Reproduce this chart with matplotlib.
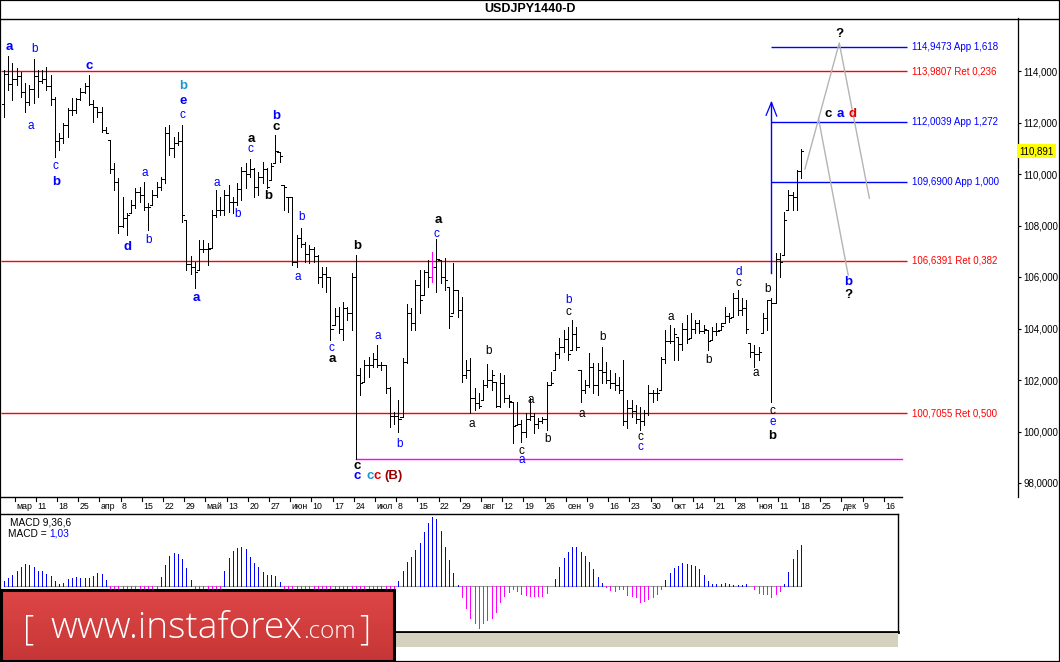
import numpy as np
import pandas as pd
import matplotlib
matplotlib.use("Agg")
import matplotlib.pyplot as plt
import matplotlib.transforms as mtransforms
from matplotlib.collections import LineCollection
from matplotlib.patches import Rectangle
from matplotlib.lines import Line2D
from matplotlib.colors import LinearSegmentedColormap

# ------------------------------------------------------------------ data
origin_day = "2016-03-04"           # day index 0 (first weekly separator)
bar_start, bar_end = "2016-03-01", "2016-11-18"

highs = [
    114.04, 114.58, 114.32, 114.10, 113.97, 113.52, 113.46, 114.45, 114.04, 114.04,
    114.17, 113.84, 113.00, 111.58, 111.97, 112.55, 112.94, 112.94, 113.33, 113.52,
    113.84, 112.87, 112.61, 112.61, 111.84, 111.32, 110.41, 109.83, 109.12, 108.47,
    108.99, 109.44, 109.51, 109.70, 108.86, 109.38, 109.70, 109.90, 111.84, 111.90,
    111.45, 111.64, 111.90, 108.21, 106.80, 106.60, 107.44, 107.44, 107.31, 108.60,
    109.38, 109.12, 109.38, 109.57, 109.12, 109.64, 110.29, 110.41, 110.57, 110.22,
    110.09, 110.48, 110.22, 110.41, 111.51, 110.87, 109.57, 109.12, 109.12, 107.63,
    107.89, 107.37, 107.24, 107.18, 106.85, 106.40, 106.40, 106.01, 104.78, 104.85,
    105.04, 104.85, 106.14, 106.85, 102.45, 102.78, 102.91, 103.04, 103.36, 102.70,
    102.58, 101.74, 100.77, 101.22, 102.87, 104.95, 104.78, 105.88, 106.27, 106.27,
    106.66, 106.98, 107.46, 106.66, 106.72, 105.62, 106.53, 105.50, 105.24, 102.78,
    102.84, 101.68, 101.48, 102.00, 102.62, 102.39, 101.93, 102.26, 102.19, 101.42,
    101.16, 101.16, 100.45, 100.71, 101.29, 100.71, 100.51, 100.58, 101.93, 102.32,
    103.10, 103.62, 103.94, 104.07, 104.33, 104.07, 102.39, 102.00, 103.04, 102.65,
    102.65, 103.30, 102.68, 102.39, 102.26, 102.13, 102.78, 101.22, 101.22, 101.03,
    100.96, 100.84, 101.80, 101.61, 101.68, 102.90, 103.94, 104.14, 104.01, 103.68,
    104.20, 104.52, 104.59, 104.33, 104.33, 104.14, 103.94, 104.07, 104.20, 104.20,
    104.85, 104.59, 105.37, 105.50, 105.17, 105.10, 103.42, 103.36, 103.29, 104.59,
    105.10, 105.20, 106.92, 106.92, 108.54, 109.38, 109.31, 110.16, 110.96,
]
lows = [
    112.20, 113.26, 112.87, 113.46, 113.00, 112.42, 112.68, 112.74, 113.00, 113.52,
    113.26, 112.68, 110.67, 110.93, 111.19, 111.45, 112.29, 112.36, 112.87, 113.13,
    112.68, 112.03, 112.23, 111.64, 111.58, 110.03, 109.38, 107.70, 107.96, 107.63,
    108.47, 108.67, 108.93, 108.60, 107.83, 108.80, 109.12, 109.38, 109.64, 110.74,
    110.67, 111.13, 108.15, 106.27, 106.10, 105.56, 106.27, 106.98, 106.47, 107.11,
    108.34, 108.41, 108.41, 108.54, 108.47, 108.80, 108.99, 109.44, 109.90, 109.12,
    109.18, 109.64, 109.44, 109.77, 110.41, 110.48, 108.60, 108.54, 106.47, 106.40,
    107.18, 106.60, 106.53, 106.60, 105.75, 105.62, 105.43, 103.55, 104.14, 103.81,
    103.55, 104.33, 103.94, 98.92, 101.42, 101.94, 102.13, 102.52, 102.52, 102.39,
    101.48, 100.19, 100.30, 99.97, 100.55, 102.65, 103.94, 103.94, 104.59, 105.30,
    105.62, 105.82, 105.43, 105.76, 105.50, 104.01, 104.59, 104.46, 101.93, 102.07,
    100.70, 100.83, 100.90, 101.22, 101.74, 101.61, 100.96, 100.96, 101.16, 100.96,
    99.54, 100.25, 99.60, 99.80, 100.45, 99.93, 100.12, 100.32, 100.06, 101.80,
    102.39, 102.84, 103.10, 102.78, 103.17, 103.17, 101.16, 101.48, 101.74, 101.48,
    101.42, 101.90, 101.90, 101.68, 101.61, 101.48, 100.25, 100.12, 100.58, 100.32,
    100.06, 100.25, 100.64, 101.16, 101.22, 101.61, 102.65, 103.42, 102.78, 102.78,
    103.16, 103.42, 103.62, 103.81, 103.81, 103.81, 103.16, 103.55, 103.75, 103.94,
    104.20, 104.27, 104.46, 104.52, 104.52, 103.81, 102.90, 102.52, 102.78, 103.81,
    103.94, 101.16, 104.98, 106.01, 106.85, 108.60, 108.60, 108.60, 109.83,
]
closes = [
    113.90, 113.50, 113.70, 113.80, 113.20, 112.80, 113.30, 113.80, 113.60, 113.70,
    113.40, 112.90, 111.30, 111.40, 111.90, 112.50, 112.50, 112.90, 113.20, 113.40,
    112.70, 112.60, 112.40, 111.70, 111.60, 110.20, 109.70, 108.00, 108.30, 108.40,
    108.80, 109.30, 109.20, 108.70, 108.70, 109.20, 109.50, 109.80, 111.60, 111.00,
    111.20, 111.30, 108.40, 106.50, 106.40, 106.20, 107.10, 107.10, 107.10, 108.40,
    108.60, 108.60, 109.20, 108.90, 108.90, 109.40, 110.10, 110.00, 110.20, 109.50,
    109.90, 110.20, 109.50, 110.30, 110.90, 110.70, 109.50, 109.10, 106.60, 107.50,
    107.30, 106.90, 107.10, 106.80, 106.00, 106.10, 106.00, 104.00, 104.50, 104.00,
    104.80, 104.60, 106.00, 102.20, 101.90, 102.60, 102.60, 102.80, 102.60, 102.60,
    101.70, 100.60, 100.60, 100.50, 102.70, 104.60, 104.20, 105.70, 105.10, 106.20,
    106.00, 106.40, 106.70, 106.00, 105.90, 104.50, 105.50, 104.70, 102.20, 102.40,
    101.30, 101.10, 101.00, 101.80, 102.00, 102.20, 101.00, 101.90, 101.30, 101.20,
    100.20, 100.30, 100.00, 100.50, 100.60, 100.30, 100.40, 100.50, 101.80, 101.90,
    103.00, 103.30, 103.60, 103.00, 103.80, 103.30, 101.60, 101.80, 102.50, 101.80,
    102.40, 102.30, 102.00, 101.90, 101.80, 101.60, 100.40, 100.90, 100.80, 100.50,
    100.40, 100.70, 101.50, 101.50, 101.50, 102.80, 103.50, 103.50, 103.80, 103.40,
    104.00, 103.60, 104.00, 104.20, 103.90, 104.00, 103.50, 103.90, 103.90, 104.10,
    104.50, 104.40, 105.20, 104.70, 104.80, 104.00, 103.10, 103.00, 103.10, 104.40,
    105.10, 105.00, 106.70, 106.60, 108.20, 109.20, 109.10, 110.10, 110.89,
]
first_open = 112.70
highlight_date = "2016-07-20"       # bar drawn in magenta

macd_hist = [
    0.141, 0.200, 0.283, 0.391, 0.482, 0.557, 0.540, 0.474, 0.391, 0.391,
    0.308, 0.258, 0.141, 0.050, 0.091, 0.175, 0.208, 0.233, 0.208, 0.208,
    0.216, 0.258, 0.341, 0.308, 0.158,
    -0.06, -0.07, -0.08, -0.08, -0.08, -0.08, -0.07, -0.07, -0.07, -0.07, -0.06, -0.04,
    0.233, 0.532, 0.765, 0.823, 0.815, 0.682, 0.449, 0.158,
    -0.03, -0.07, -0.08, -0.08, -0.08, -0.07, -0.05,
    0.391, 0.707, 0.881, 0.956, 0.973, 0.923, 0.740, 0.590, 0.482, 0.357,
    0.283, 0.274, 0.258, 0.108,
    -0.04, -0.07, -0.08, -0.08, -0.08, -0.08, -0.08, -0.08, -0.08, -0.08,
    -0.08, -0.08, -0.08, -0.08, -0.08, -0.08, -0.08, -0.08, -0.08, -0.08,
    -0.08, -0.08, -0.08, -0.08, -0.07, -0.07, -0.05,
    0.141, 0.382, 0.607, 0.740, 0.906, 1.089, 1.347, 1.588, 1.729, 1.679,
    1.380, 0.973, 0.657, 0.333, 0.033, -0.274, -0.549, -0.798, -0.923, -1.031,
    -0.906, -0.840, -0.781, -0.648, -0.382, -0.241, -0.133, -0.067, -0.108, -0.200,
    -0.224, -0.241, -0.241, -0.241, -0.241, -0.158, 0.010, 0.183, 0.482, 0.707,
    0.856, 0.981, 0.981, 0.856, 0.756, 0.607, 0.432, 0.224, 0.083, -0.010,
    -0.091, -0.108, -0.058, -0.067, -0.224, -0.241, -0.274, -0.382, -0.374, -0.324,
    -0.274, -0.191, -0.075, 0.158, 0.333, 0.457, 0.507, 0.582, 0.565, 0.524,
    0.507, 0.432, 0.274, 0.125, 0.058, 0.058, 0.058, 0.083, 0.050, 0.025,
    0.025, 0.025, 0.058, 0.005, -0.058, -0.158, -0.191, -0.191, -0.258, -0.191,
    -0.108, 0.058, 0.357, 0.682, 0.906, 1.031,
]
macd_title = "MACD 9,36,6"
macd_value_text = "1,03"

week_start, week_end = "2016-03-04", "2016-12-16"
week_labels = ["мар", "11", "18", "25", "апр", "8", "15", "22", "29",
               "май", "13", "20", "27", "июн", "10", "17", "24",
               "июл", "8", "15", "22", "29", "авг", "12", "19", "26",
               "сен", "9", "16", "23", "30", "окт", "14", "21", "28",
               "ноя", "11", "18", "25", "дек", "9", "16"]

price_ticks = [98, 100, 102, 104, 106, 108, 110, 112, 114]
price_tick_labels = ["98,0000", "100,000", "102,000", "104,000", "106,000",
                     "108,000", "110,000", "112,000", "114,000"]
last_price = 110.891
last_price_text = "110,891"

levels = [114.9473, 113.9807, 112.0039, 109.6900, 106.6391, 100.7055]
level_texts = ["114,9473 App 1,618", "113,9807 Ret 0,236", "112,0039 App 1,272",
               "109,6900 App 1,000", "106,6391 Ret 0,382", "100,7055 Ret 0,500"]
level_kinds = ["App", "Ret", "App", "App", "Ret", "Ret"]
level_end_day = 209.9
level_text_day = 211.1
app_start_date = "2016-11-09"
low_line_price = 98.92
low_line_date = "2016-06-24"
low_line_end_day = 208.8
arrow_top, arrow_bottom = 112.78, 106.14

proj_path1 = ([185.9, 194.0, 201.1], [110.19, 115.09, 109.06])
proj_path2 = ([189.1, 196.1], [112.16, 106.08])

BLUE, BLACK, CYAN, RED, DRED = "#0000FF", "#000000", "#1E96D2", "#E00000", "#990000"
wave_labels = [
    ("a", -1.8, 114.94, BLUE, "bold"), ("b", 4.15, 114.84, BLUE, "normal"),
    ("c", 17.2, 114.21, BLUE, "bold"), ("a", 3.3, 111.88, BLUE, "normal"),
    ("c", 9.1, 110.32, BLUE, "normal"), ("b", 9.3, 109.70, BLUE, "bold"),
    ("b", 39.2, 113.42, CYAN, "bold"), ("e", 39.2, 112.85, BLUE, "bold"),
    ("c", 39.1, 112.29, BLUE, "normal"), ("a", 30.1, 110.05, BLUE, "normal"),
    ("b", 31.0, 107.44, BLUE, "normal"), ("d", 26.2, 107.15, BLUE, "bold"),
    ("a", 42.3, 105.20, BLUE, "bold"), ("a", 47.2, 109.66, BLUE, "normal"),
    ("b", 52.0, 108.43, BLUE, "normal"), ("c", 55.2, 110.97, BLUE, "normal"),
    ("a", 55.3, 111.37, BLACK, "bold"), ("b", 59.2, 109.15, BLACK, "bold"),
    ("b", 61.3, 112.24, BLUE, "bold"), ("c", 61.3, 111.84, BLACK, "bold"),
    ("b", 67.1, 108.32, BLUE, "normal"), ("a", 66.2, 106.01, BLUE, "normal"),
    ("c", 74.2, 103.25, BLUE, "normal"), ("a", 74.4, 102.82, BLACK, "bold"),
    ("b", 80.2, 107.22, BLACK, "bold"), ("c", 80.2, 98.67, BLACK, "bold"),
    ("c", 80.2, 98.28, BLUE, "bold"), ("c", 83.3, 98.28, CYAN, "bold"),
    ("c", 85.1, 98.28, RED, "bold"), ("(B)", 88.8, 98.28, DRED, "bold"),
    ("a", 85.1, 103.71, BLUE, "normal"), ("b", 90.2, 99.50, BLUE, "normal"),
    ("a", 99.4, 108.21, BLACK, "bold"), ("c", 99.1, 107.66, BLUE, "normal"),
    ("b", 111.2, 103.13, BLACK, "normal"), ("a", 107.3, 100.28, BLACK, "normal"),
    ("c", 119.1, 99.25, BLACK, "normal"), ("a", 119.1, 98.89, BLUE, "normal"),
    ("a", 121.2, 101.22, BLACK, "normal"), ("b", 125.1, 99.70, BLACK, "normal"),
    ("b", 130.1, 105.11, BLUE, "normal"), ("c", 130.1, 104.65, BLACK, "normal"),
    ("b", 138.1, 103.68, BLACK, "normal"), ("a", 133.3, 100.67, BLACK, "normal"),
    ("c", 147.2, 99.80, BLACK, "normal"), ("c", 147.2, 99.41, BLUE, "normal"),
    ("a", 154.2, 104.46, BLACK, "normal"), ("d", 170.3, 106.18, BLUE, "normal"),
    ("c", 170.3, 105.76, BLACK, "normal"), ("b", 163.1, 102.78, BLACK, "normal"),
    ("a", 174.3, 102.28, BLACK, "normal"), ("b", 177.0, 105.52, BLACK, "normal"),
    ("c", 178.2, 100.81, BLACK, "normal"), ("e", 178.2, 100.38, BLUE, "normal"),
    ("b", 178.2, 99.83, BLACK, "bold"), ("b", 196.2, 105.82, BLUE, "bold"),
    ("?", 196.2, 105.30, BLACK, "bold"), ("?", 194.0, 115.44, BLACK, "bold"),
    ("c", 191.3, 112.32, BLACK, "bold"), ("a", 194.2, 112.32, BLUE, "bold"),
    ("d", 197.2, 112.32, RED, "bold"),
]

# ------------------------------------------------------------------ layout helpers
W, H = 1060, 662
PX0, PXD = 16.7, 4.24        # pixel of day 0, pixels per trading day
PY0, PYD = 71.0, 25.75       # pixel of price 114, pixels per price unit
ONE_PX = 0.72                # one pixel in points at 100 dpi

def frac_rect(x0, y0, x1, y1):
    return [x0 / W, 1 - y1 / H, (x1 - x0) / W, (y1 - y0) / H]

def xlim_for(a, b):
    return ((a - PX0) / PXD, (b - PX0) / PXD)

def day_index(dates):
    d = np.asarray(pd.to_datetime(dates).values.astype("datetime64[D]"))
    return np.busday_count(np.datetime64(origin_day), d)

plt.rcParams["font.family"] = ["Liberation Sans", "DejaVu Sans"]
fig = plt.figure(figsize=(W / 100, H / 100), dpi=100)
fig.patch.set_facecolor("white")

# ------------------------------------------------------------------ main price axes
ax = fig.add_axes(frac_rect(1, 18, 1018, 497))
ax.set_xlim(*xlim_for(1, 1018))
ax.set_ylim(114 - (497 - PY0) / PYD, 114 + (PY0 - 18) / PYD)
for s in ("left", "bottom", "top"):
    ax.spines[s].set_visible(False)
ax.spines["right"].set_linewidth(0.9)
ax.set_xticks([])
ax.yaxis.tick_right()
ax.set_yticks(price_ticks)
ax.set_yticklabels(price_tick_labels, fontsize=7)
ax.tick_params(axis="y", direction="out", length=2.5, width=0.8, pad=1.5)

bar_dates = pd.bdate_range(bar_start, bar_end)
bx = day_index(bar_dates)
hl_x = day_index([highlight_date])[0]
opens = [first_open] + [min(max(c, l), h) for c, l, h in zip(closes[:-1], lows[1:], highs[1:])]
tw = 0.55
segs, cols = [], []
for x, o, hgh, lw_, c in zip(bx, opens, highs, lows, closes):
    col = "#FF00FF" if x == hl_x else "black"
    segs += [[(x, lw_), (x, hgh)], [(x - tw, o), (x, o)], [(x, c), (x + tw, c)]]
    cols += [col] * 3
ax.add_collection(LineCollection(segs, colors=cols, linewidths=ONE_PX,
                                 antialiaseds=False, zorder=3))

# fibonacci / target levels
xl0 = ax.get_xlim()[0]
app_x = day_index([app_start_date])[0]
for lv, txt, kind in zip(levels, level_texts, level_kinds):
    col = "#FF0000" if kind == "Ret" else "#0000FF"
    x0 = xl0 if kind == "Ret" else app_x
    ax.plot([x0, level_end_day], [lv, lv], color=col, lw=1.0, zorder=2,
            solid_capstyle="butt")
    ax.text(level_text_day, lv, txt, color=col, fontsize=7, ha="left", va="center")

lx = day_index([low_line_date])[0]
ax.plot([lx, low_line_end_day], [low_line_price, low_line_price], color="#FF00FF",
        lw=1.0, zorder=2)
# blue vertical with arrow head
ax.plot([app_x, app_x], [arrow_bottom, arrow_top], color="#0000FF", lw=1.0, zorder=2)
ax.plot([app_x - 1.25, app_x, app_x + 1.25],
        [arrow_top - 0.5, arrow_top, arrow_top - 0.53], color="#0000FF", lw=0.9, zorder=2)
# projection lines
ax.plot(*proj_path1, color="#B4B4B4", lw=1.0, zorder=2)
ax.plot(*proj_path2, color="#B4B4B4", lw=1.0, zorder=2)

for txt, d, p, col, wt in wave_labels:
    fs = 9.5 if wt == "bold" else 8.5
    if txt == "(B)":
        fs = 9.5
    ax.text(d, p, txt, color=col, fontsize=fs, fontweight=wt, ha="center",
            va="center", zorder=5)

trans = mtransforms.blended_transform_factory(ax.transAxes, ax.transData)
ax.text(1.0 + 1.6 / 1017, last_price, last_price_text, transform=trans, fontsize=7,
        ha="left", va="center", clip_on=False,
        bbox=dict(facecolor="#FFFF00", edgecolor="none", pad=1.6))

# ------------------------------------------------------------------ date strip
axd = fig.add_axes(frac_rect(1, 497, 902, 514))
axd.set_xlim(*xlim_for(1, 902))
axd.set_ylim(0, 1)
axd.axis("off")
axd.plot([xlim_for(1, 902)[0], xlim_for(1, 902)[1]], [1, 1], color="black", lw=1.0,
         clip_on=False)
wk = day_index(pd.date_range(week_start, week_end, freq="W-FRI"))
for d, lab in zip(wk, week_labels):
    xt = d - 0.5
    axd.plot([xt, xt], [1, 1 - 3.5 / 17], color="black", lw=0.8)
    axd.text(xt + 1.4 / PXD, 0.47, lab, fontsize=6.3, ha="left", va="center")

# ------------------------------------------------------------------ MACD panel
axm = fig.add_axes(frac_rect(1, 514, 898, 632))
axm.set_xlim(*xlim_for(1, 898))
k = 0.02494
axm.set_ylim(-(632 - 586.3) * k, (586.3 - 514) * k)
axm.set_xticks([])
axm.set_yticks([])
axm.spines["left"].set_visible(False)
axm.spines["top"].set_linewidth(1.0)
axm.spines["right"].set_linewidth(1.0)
axm.spines["bottom"].set_linewidth(2.0)
axm.plot([bx[0], bx[-1]], [0, 0], color="#A0A0A0", lw=0.8, zorder=1)
mcols = ["#0000FF" if v > 0 else "#FF00FF" for v in macd_hist]
axm.vlines(bx, 0, macd_hist, colors=mcols, lw=ONE_PX, antialiased=False, zorder=2)
axm.text(9 / 897, 1 - 8.3 / 118, macd_title, transform=axm.transAxes, fontsize=7.3,
         ha="left", va="center")
axm.text(7 / 897, 1 - 20 / 118, "MACD =", transform=axm.transAxes, fontsize=7.3,
         ha="left", va="center")
axm.text(48.5 / 897, 1 - 20 / 118, macd_value_text, transform=axm.transAxes,
         fontsize=7.3, color="#0000FF", ha="left", va="center")

# textured strip below the MACD panel
fig.patches.append(Rectangle((1 / W, 1 - 647 / H), 897 / W, 14 / H,
                             transform=fig.transFigure, facecolor="#D4D2BE",
                             edgecolor="none", zorder=0))

# ------------------------------------------------------------------ frame, title strip
fig.add_artist(Line2D([0, 1], [1 - 18.5 / H] * 2, transform=fig.transFigure,
                      color="black", lw=1.0))
fig.text(530 / W, 1 - 9.5 / H, "USDJPY1440-D", ha="center", va="center",
         fontsize=9, fontweight="bold")
fig.patches.append(Rectangle((0, 0), 1, 1, transform=fig.transFigure, fill=False,
                             edgecolor="black", lw=1.6, zorder=10))

# ------------------------------------------------------------------ logo box
axl = fig.add_axes(frac_rect(1, 590, 394, 661))
axl.set_zorder(20)
grad = np.linspace(0, 1, 64).reshape(-1, 1)
cmap = LinearSegmentedColormap.from_list("rg", ["#DE4646", "#C63636"])
axl.imshow(grad, aspect="auto", cmap=cmap, extent=[0, 1, 0, 1], origin="upper")
axl.set_xticks([])
axl.set_yticks([])
for s in axl.spines.values():
    s.set_linewidth(2.2)
    s.set_edgecolor("black")

renderer = fig.canvas.get_renderer()

def fitted(x, y, txt, target_w, fs, **kw):
    t = fig.text(x / W, 1 - y / H, txt, fontsize=fs, color="white",
                 family=["Open Sans", "DejaVu Sans"], **kw)
    w = t.get_window_extent(renderer).width
    t.set_fontsize(fs * target_w / w)
    return t

fitted(50, 638, "www.instaforex", 252, 30, ha="left", va="baseline", fontweight="light")
fitted(303, 638, ".com", 53, 20, ha="left", va="baseline", fontweight="light")
for bx_, br in ((29, "["), (364.5, "]")):
    fig.text(bx_ / W, 1 - 630 / H, br, fontsize=25, color="white", ha="center",
             va="center", family=["Open Sans", "DejaVu Sans"], fontweight="light")

for t in fig.texts:
    t.set_zorder(30)

fig.savefig("out.png", dpi=100)
